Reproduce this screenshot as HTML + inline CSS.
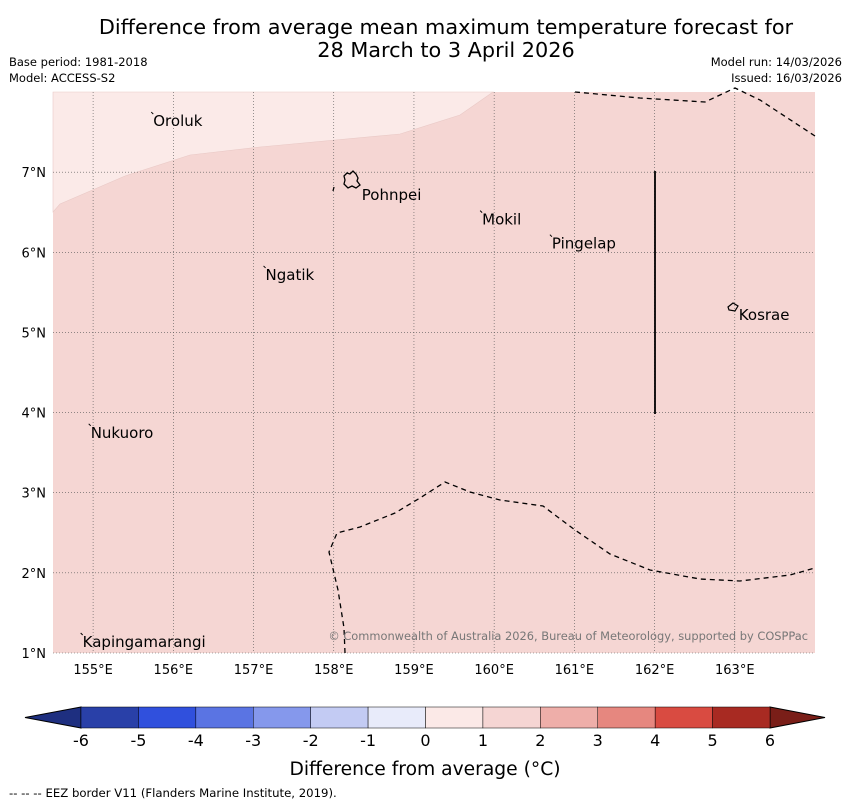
<!DOCTYPE html>
<html><head><meta charset="utf-8"><style>
body{margin:0;background:#fff;font-family:"DejaVu Sans","Liberation Sans",sans-serif}
svg text{font-family:"DejaVu Sans","Liberation Sans",sans-serif}
</style></head><body>
<svg id="c" width="850" height="804" xmlns="http://www.w3.org/2000/svg">
<text x="446" y="34" font-size="20.8" text-anchor="middle">Difference from average mean maximum temperature forecast for</text>
<text x="446" y="57" font-size="20.8" text-anchor="middle">28 March to 3 April 2026</text>
<text x="9" y="66" font-size="11.5">Base period: 1981-2018</text>
<text x="9" y="82" font-size="11.5">Model: ACCESS-S2</text>
<text x="842" y="66" font-size="11.5" text-anchor="end">Model run: 14/03/2026</text>
<text x="842" y="82" font-size="11.5" text-anchor="end">Issued: 16/03/2026</text>
<g id="map"></g>
<g id="cb"></g>
<text x="425" y="775" font-size="18.7" text-anchor="middle">Difference from average (°C)</text>
<text x="9" y="797" font-size="11.7">--  --  -- EEZ border V11 (Flanders Marine Institute, 2019).</text>
</svg>
<script>
const lonTicks=[155,156,157,158,159,160,161,162,163];
const latTicks=[1,2,3,4,5,6,7];
const places=["Oroluk","Pohnpei","Mokil","Pingelap","Ngatik","Kosrae","Nukuoro","Kapingamarangi"];
const placeLon=[155.75,158.35,159.85,160.72,157.15,163.05,154.97,154.87];
const placeLat=[7.65,6.73,6.42,6.12,5.73,5.23,3.76,1.15];
const cbLevels=[-6,-5,-4,-3,-2,-1,0,1,2,3,4,5,6];
const cbColors=["#2940a8","#3050dd","#5a74e3","#8598ec","#c3cbf3","#e8ebfa","#fbe9e7","#f5d5d3","#eeaea9","#e6877f","#d94b41","#a82a22"];
const NS="http://www.w3.org/2000/svg";
const X0=53,X1=815,Y0=92,Y1=653,LON0=154.5,LON1=164,LAT0=1,LAT1=8;
const xs=l=>X0+(l-LON0)/(LON1-LON0)*(X1-X0);
const ys=l=>Y1-(l-LAT0)/(LAT1-LAT0)*(Y1-Y0);
const cx=v=>81+(v+6)/12*(770-81);
function mk(t,a,p){const e=document.createElementNS(NS,t);for(const k in a)e.setAttribute(k,a[k]);p.appendChild(e);return e;}
const map=document.getElementById('map');
let r=mk('rect',{x:X0,y:Y0,width:X1-X0,height:Y1-Y0,fill:'#f5d6d3'},map);


let lp=mk('path',{d:'M53,92 L493,92 L460,115 L400,134 L260,147 L190,155 L125,176 L60,204 L53,212 Z',fill:'#fbeae8',stroke:'#e9c9c6','stroke-width':0.6},map);


lonTicks.forEach(l=>{const x=xs(l);
 let g=mk('line',{x1:x,y1:Y0,x2:x,y2:Y1,stroke:'#555','stroke-width':0.6,'stroke-dasharray':'1,2'},map);
 
 
 let t=mk('text',{x:x,y:674,'font-size':13,'text-anchor':'middle'},map);t.textContent=l+'°E';
 
 });
latTicks.forEach(l=>{const y=ys(l);
 let g=mk('line',{x1:X0,y1:y,x2:X1,y2:y,stroke:'#555','stroke-width':0.6,'stroke-dasharray':'1,2'},map);
 
 
 let t=mk('text',{x:46,y:y+5,'font-size':13,'text-anchor':'end'},map);t.textContent=l+'°N';
 
 });
const eez=[
 'M575,92 L640,98 L705,102 L735,88 L760,100 L815,136',
 'M345,653 L344,628 L338,590 L329,552 L337,533 L360,527 L395,513 L420,498 L445,482 L470,492 L500,500 L543,506 L575,530 L610,554 L650,570 L700,579 L740,581 L790,575 L815,568'];
eez.forEach(d=>{let p=mk('path',{d:d,fill:'none',stroke:'#000','stroke-width':1.3,'stroke-dasharray':'5,4'},map);
 
 });
let vl=mk('line',{x1:655,y1:171,x2:655,y2:414,stroke:'#000','stroke-width':1.8},map);


let pi=mk('path',{d:'M344,176 L347,173 L350,174 L353,171 L356,174 L358,178 L357,181 L360,185 L356,188 L352,186 L348,188 L344,184 L345,180 Z',fill:'none',stroke:'#000','stroke-width':1.3},map);


let pm=mk('path',{d:'M333,191 L334,187',stroke:'#000','stroke-width':1.3},map);


let ki=mk('path',{d:'M728,307 L733,303 L738,306 L735,311 L729,310 Z',fill:'none',stroke:'#000','stroke-width':1.2},map);


places.forEach((n,i)=>{const x=xs(placeLon[i]),y=ys(placeLat[i]);
 let t=mk('text',{x:x,y:y+6,'font-size':15},map);t.textContent=n;
 
 
 if(n!=='Pohnpei'&&n!=='Kosrae'){let d=mk('path',{d:`M${x-2},${y-8} l2,2`,stroke:'#000','stroke-width':1},map);
 
 }});
let cp=mk('text',{x:808,y:640,'font-size':11.4,'text-anchor':'end',fill:'#777'},map);
cp.textContent='© Commonwealth of Australia 2026, Bureau of Meteorology, supported by COSPPac';


const cb=document.getElementById('cb');
let a1=mk('polygon',{points:'81,707 25,717.5 81,728',fill:'#1e2f80',stroke:'#000','stroke-width':1},cb);


let a2=mk('polygon',{points:'770,707 825,717.5 770,728',fill:'#7a1e18',stroke:'#000','stroke-width':1},cb);


cbColors.forEach((c,i)=>{const x=cx(cbLevels[i]);
 let b=mk('rect',{x:x,y:707,width:cx(cbLevels[i+1])-x,height:21,fill:c,stroke:'#000','stroke-width':0.5},cb);
 
 });
cbLevels.forEach(v=>{let t=mk('text',{x:cx(v),y:746,'font-size':16,'text-anchor':'middle'},cb);t.textContent=v;
 
 });
</script>
</body></html>
